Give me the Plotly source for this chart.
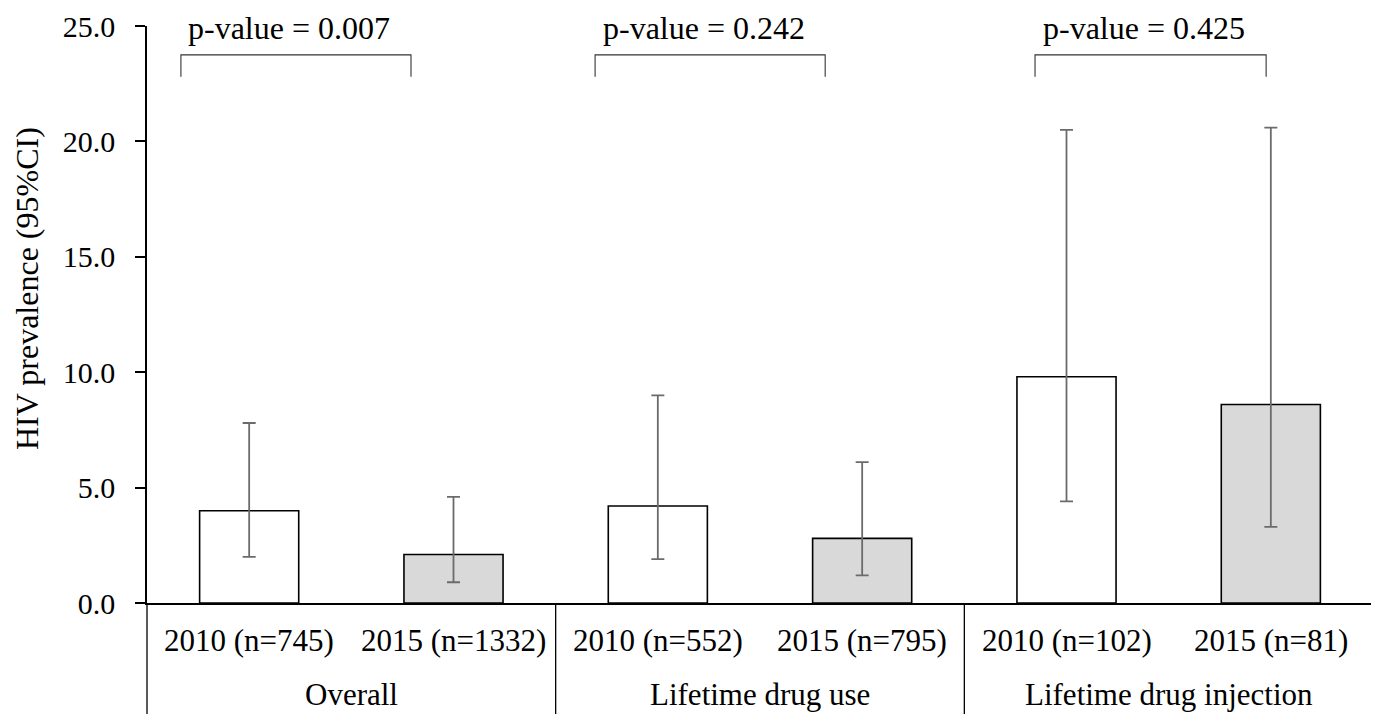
import plotly.graph_objects as go

groups = ["Overall", "Overall", "Lifetime drug use", "Lifetime drug use",
          "Lifetime drug injection", "Lifetime drug injection"]
subs = ["2010 (n=745)", "2015 (n=1332)", "2010 (n=552)", "2015 (n=795)",
        "2010 (n=102)", "2015 (n=81)"]
group_names = ["Overall", "Lifetime drug use", "Lifetime drug injection"]
prevalence = [4.0, 2.1, 4.2, 2.8, 9.8, 8.6]
ci_low = [2.0, 0.9, 1.9, 1.2, 4.4, 3.3]
ci_high = [7.8, 4.6, 9.0, 6.1, 20.5, 20.6]
p_values = ["p-value = 0.007", "p-value = 0.242", "p-value = 0.425"]
bar_colors = ["#ffffff", "#d9d9d9", "#ffffff", "#d9d9d9", "#ffffff", "#d9d9d9"]

# bracket / annotation layout positions (category index units)
bracket_x0 = [-0.334, 1.693, 3.846]
bracket_x1 = [0.792, 2.819, 4.977]
pval_x = [0.195, 2.226, 4.38]
bracket_top = 23.75
bracket_leg = 22.8
pval_y = 24.9

FONT = "Liberation Serif, Times New Roman, serif"

W, H = 1371, 706
ML, MR, MT, MB = 139, 6, 18, 111
plot_h = H - MT - MB
plot_w = W - ML - MR

err_plus = [h - v for h, v in zip(ci_high, prevalence)]
err_minus = [v - l for l, v in zip(ci_low, prevalence)]

fig = go.Figure()
fig.add_trace(go.Bar(
    x=[groups, subs],
    y=prevalence,
    marker=dict(color=bar_colors, line=dict(color="black", width=1.6)),
    error_y=dict(type="data", array=err_plus, arrayminus=err_minus,
                 color="#6b6b6b", thickness=1.8, width=6.5),
    showlegend=False,
))

for x0, x1, px, txt in zip(bracket_x0, bracket_x1, pval_x, p_values):
    fig.add_shape(type="path",
                  path=f"M {x0} {bracket_leg} L {x0} {bracket_top} L {x1} {bracket_top} L {x1} {bracket_leg}",
                  xref="x", yref="y", line=dict(color="#333333", width=1.1))
    fig.add_annotation(x=px, y=pval_y, xref="x", yref="y", text=txt,
                       showarrow=False, yanchor="middle",
                       font=dict(family=FONT, size=32, color="black"))

# category labels (two rows) and group dividers
for i, s in enumerate(subs):
    fig.add_annotation(x=i, y=-(641 - 603) / plot_h, xref="x", yref="paper", text=s,
                       showarrow=False, yanchor="middle",
                       font=dict(family=FONT, size=31, color="black"))
for g, name in enumerate(group_names):
    fig.add_annotation(x=2 * g + 0.5, y=-(694 - 603) / plot_h, xref="x", yref="paper", text=name,
                       showarrow=False, yanchor="middle",
                       font=dict(family=FONT, size=31, color="black"))
for dx in [0, 1 / 3, 2 / 3, 0.9995]:
    fig.add_shape(type="line", x0=dx, x1=dx, xref="paper", yref="paper",
                  y0=0, y1=-(MB + 2) / plot_h, line=dict(color="black", width=1.3))

fig.add_annotation(text="HIV prevalence (95%CI)", xref="paper", yref="paper",
                   x=(27 - 147) / plot_w, y=(603 - 289) / plot_h, textangle=-90,
                   showarrow=False, xanchor="center", yanchor="middle",
                   font=dict(family=FONT, size=32, color="black"))

fig.update_layout(
    width=W, height=H,
    margin=dict(l=ML, r=MR, t=MT, b=MB, autoexpand=False),
    paper_bgcolor="white", plot_bgcolor="white",
    bargap=0.515,
    font=dict(family=FONT, size=31, color="black"),
)
fig.update_xaxes(
    type="multicategory",
    showline=True, linecolor="black", linewidth=1.6,
    showgrid=False, ticks="", showticklabels=False,
    showdividers=False,
)
fig.update_yaxes(
    range=[0, 25], tickvals=[0, 5, 10, 15, 20, 25],
    ticktext=["0.0", "5.0", "10.0", "15.0", "20.0", "25.0"],
    showline=True, linecolor="black", linewidth=1.6,
    ticks="outside", ticklen=10, tickwidth=1.6, tickcolor="black",
    showgrid=False, zeroline=False,
    ticklabelstandoff=14,
    tickfont=dict(family=FONT, size=30, color="black"),
)

fig.write_html("out.html")
